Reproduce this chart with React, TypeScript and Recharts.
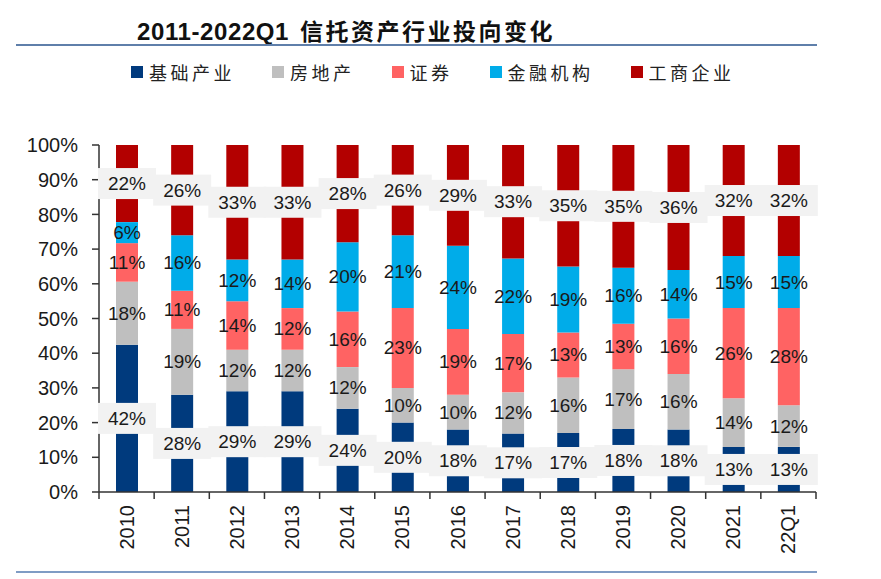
import React from 'react';
import { BarChart, Bar, XAxis, YAxis, LabelList } from 'recharts';

const categories = ['2010', '2011', '2012', '2013', '2014', '2015', '2016', '2017', '2018', '2019', '2020', '2021', '22Q1'];
const infra = [42, 28, 29, 29, 24, 20, 18, 17, 17, 18, 18, 13, 13];
const realEstate = [18, 19, 12, 12, 12, 10, 10, 12, 16, 17, 16, 14, 12];
const securities = [11, 11, 14, 12, 16, 23, 19, 17, 13, 13, 16, 26, 28];
const financial = [6, 16, 12, 14, 20, 21, 24, 22, 19, 16, 14, 15, 15];
const commerce = [22, 26, 33, 33, 28, 26, 29, 33, 35, 35, 36, 32, 32];
const yTicks = [0, 0.1, 0.2, 0.3, 0.4, 0.5, 0.6, 0.7, 0.8, 0.9, 1];

const title = '2011-2022Q1';
const titleCn = '信托资产行业投向变化';

const series = [
  { key: 'infra', name: '基础产业', values: infra, color: '#003A7D', boxed: true },
  { key: 'realEstate', name: '房地产', values: realEstate, color: '#BFBFBF', boxed: false },
  { key: 'securities', name: '证券', values: securities, color: '#FF6363', boxed: false },
  { key: 'financial', name: '金融机构', values: financial, color: '#00ACE9', boxed: false },
  { key: 'commerce', name: '工商企业', values: commerce, color: '#B30000', boxed: true },
];

const data = categories.map((c, i) => {
  const row: any = { name: c };
  series.forEach((s) => {
    row[s.key] = s.values[i];
  });
  return row;
});

const LABEL_FONT = "'Liberation Sans', Arial, sans-serif";

const makeLabel = (values: number[], boxed: boolean) => (props: any) => {
  const { x, y, width, height, index } = props;
  const cx = Number(x) + Number(width) / 2;
  const cy = Number(y) + Number(height) / 2;
  const v = values[index];
  return (
    <g>
      {boxed && <rect x={cx - 29} y={cy - 15.5} width={58} height={31} fill="#F2F2F2" />}
      <text
        x={cx}
        y={cy}
        textAnchor="middle"
        dominantBaseline="central"
        fontSize={19}
        fontFamily={LABEL_FONT}
        fill="#1a1a1a"
      >
        {v}%
      </text>
    </g>
  );
};

const XTick = (props: any) => {
  const { x, y, payload, index, visibleTicksCount, width } = props;
  let off = payload && typeof payload.offset === 'number' && payload.offset > 0 ? payload.offset : 0;
  if (!off && width && visibleTicksCount) off = width / visibleTicksCount / 2;
  const last = index === visibleTicksCount - 1;
  return (
    <g>
      <line x1={x - off} x2={x - off} y1={y} y2={y + 7} stroke="#333" strokeWidth={1.5} />
      {last && <line x1={x + off} x2={x + off} y1={y} y2={y + 7} stroke="#333" strokeWidth={1.5} />}
      <text
        x={x}
        y={y + 13}
        transform={`rotate(-90, ${x}, ${y + 13})`}
        textAnchor="end"
        dominantBaseline="central"
        fontSize={20}
        fontFamily={LABEL_FONT}
        fill="#1a1a1a"
      >
        {payload.value}
      </text>
    </g>
  );
};

export default function App() {
  return (
    <div
      style={{
        position: 'absolute',
        left: 0,
        top: 0,
        width: 881,
        height: 579,
        background: '#fff',
        fontFamily: "'Liberation Sans', Arial, 'Noto Sans CJK SC', sans-serif",
      }}
    >
      <div
        style={{
          position: 'absolute',
          left: 137,
          top: 15,
          fontWeight: 'bold',
          color: '#111',
          whiteSpace: 'nowrap',
          lineHeight: '30px',
        }}
      >
        <span style={{ fontSize: 24, letterSpacing: 0.6 }}>{title}</span>
        <span style={{ fontSize: 23, letterSpacing: 2.5, marginLeft: 11, fontFamily: "'Noto Sans CJK SC', sans-serif" }}>
          {titleCn}
        </span>
      </div>
      <div style={{ position: 'absolute', left: 16, top: 44, width: 801, height: 2, background: '#5F7FAA' }} />
      <div
        style={{
          position: 'absolute',
          left: 131,
          top: 59,
          display: 'flex',
          alignItems: 'center',
          whiteSpace: 'nowrap',
        }}
      >
        {series.map((s) => (
          <div key={s.key} style={{ display: 'flex', alignItems: 'center', marginRight: 37 }}>
            <div style={{ width: 12, height: 12, background: s.color, marginRight: 6 }} />
            <span
              style={{
                fontSize: 18,
                letterSpacing: 3.5,
                color: '#222',
                fontFamily: "'Noto Sans CJK SC', sans-serif",
                lineHeight: '26px',
              }}
            >
              {s.name}
            </span>
          </div>
        ))}
      </div>
      <div style={{ position: 'absolute', left: 0, top: 0 }}>
        <BarChart
          width={881}
          height={579}
          data={data}
          stackOffset="expand"
          barSize={22}
          margin={{ top: 145, right: 65, bottom: 7, left: 0 }}
        >
          <XAxis
            dataKey="name"
            interval={0}
            height={80}
            tickLine={false}
            tickSize={0}
            tickMargin={0}
            axisLine={{ stroke: '#333', strokeWidth: 1.5 }}
            tick={<XTick />}
          />
          <YAxis
            width={99}
            domain={[0, 1]}
            ticks={yTicks}
            interval={0}
            tickSize={7}
            tickMargin={14}
            axisLine={{ stroke: '#333', strokeWidth: 1.5 }}
            tickLine={{ stroke: '#333', strokeWidth: 1.5 }}
            tickFormatter={(v: number) => `${Math.round(v * 100)}%`}
            tick={{ fontSize: 20, fill: '#1a1a1a', fontFamily: LABEL_FONT }}
          />
          {series.map((s) => (
            <Bar key={s.key} dataKey={s.key} name={s.name} stackId="a" fill={s.color} isAnimationActive={false}>
              <LabelList dataKey={s.key} content={makeLabel(s.values, s.boxed)} />
            </Bar>
          ))}
        </BarChart>
      </div>
      <div style={{ position: 'absolute', left: 16, top: 571, width: 801, height: 2, background: '#7F9CC4' }} />
    </div>
  );
}
